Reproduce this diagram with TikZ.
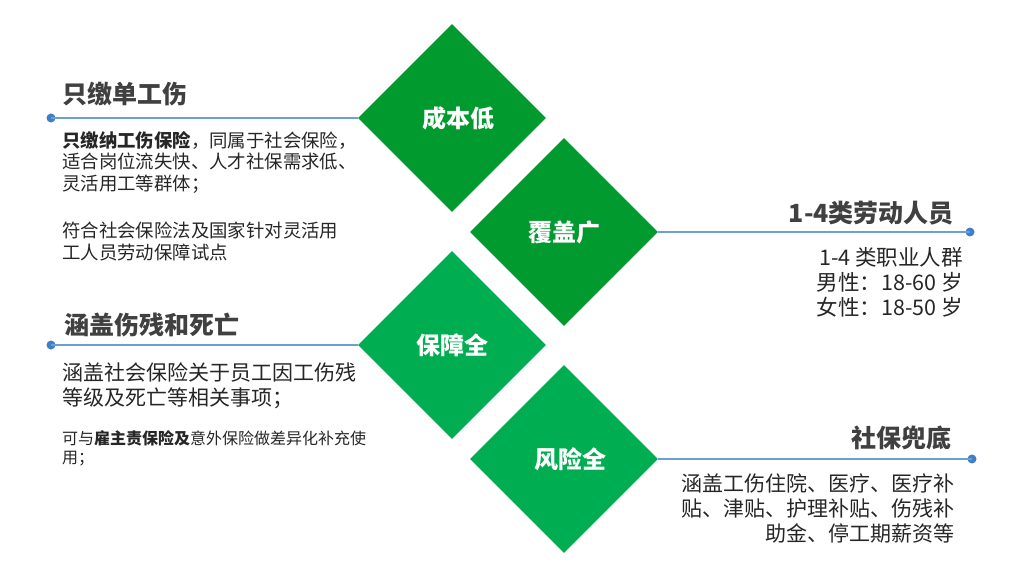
\documentclass[tikz,border=0pt]{standalone}
\usepackage{fontspec}
\setmainfont{Noto Sans CJK SC}
\usetikzlibrary{shapes.geometric}

\definecolor{darkgreen}{HTML}{009A2F}
\definecolor{lightgreen}{HTML}{00AD50}
\definecolor{lineblue}{HTML}{6A9FD8}
\definecolor{dotblue}{HTML}{3F7FC8}
\definecolor{headgray}{HTML}{404040}
\definecolor{bodygray}{HTML}{262626}

\tikzset{
  tile/.style={diamond, minimum width=188pt, minimum height=188pt, inner sep=0pt,
    text=white, font=\fontsize{24}{28}\selectfont\bfseries},
  heading/.style={inner sep=0pt, text=headgray, font=\fontsize{25}{29}\selectfont\bfseries},
  body/.style={inner sep=0pt, text=bodygray},
  link/.style={lineblue, line width=1.3pt},
  dot/.style={circle, fill=dotblue, inner sep=0pt, minimum size=9pt},
}

\begin{document}
\begin{tikzpicture}[x=1pt, y=-1pt]
\useasboundingbox (0,0) rectangle (1030,575);

% diamonds
\node[tile, fill=darkgreen] (low) at (452,118) {\hspace{12pt}成本低};
\node[tile, fill=darkgreen] (wide) at (564,232) {覆盖广\hspace{26pt}};
\node[tile, fill=lightgreen] (safe) at (452,345) {保障全};
\node[tile, fill=lightgreen] (risk) at (564,459) {\hspace{12pt}风险全};

% connectors
\node[dot] (dot1) at (51,118) {};
\node[dot] (dot2) at (970,232) {};
\node[dot] (dot3) at (51,345) {};
\node[dot] (dot4) at (972,459) {};
\draw[link] (dot1.center) -- (low.west);
\draw[link] (wide.east) -- (dot2.center);
\draw[link] (dot3.center) -- (safe.west);
\draw[link] (risk.east) -- (dot4.center);

% left texts (base = last line)
\node[heading, anchor=base west] (head1) at (62,104) {只缴单工伤};
\node[body, anchor=base west, align=left, font=\fontsize{18.4}{21.5}\selectfont] (text1a) at (62,190)
  {{\bfseries 只缴纳工伤保险}，同属于社会保险，\\适合岗位流失快、人才社保需求低、\\灵活用工等群体；};
\node[body, anchor=base west, align=left, font=\fontsize{18.4}{22}\selectfont] (text1b) at (62,259)
  {符合社会保险法及国家针对灵活用\\工人员劳动保障试点};

\node[heading, anchor=base west] (head3) at (64,334) {涵盖伤残和死亡};
\node[body, anchor=base west, align=left, font=\fontsize{21}{25}\selectfont] (text3a) at (62,405)
  {涵盖社会保险关于员工因工伤残\\等级及死亡等相关事项；};
\node[body, anchor=base west, align=left, font=\fontsize{16}{19.5}\selectfont] (text3b) at (62,463.5)
  {可与{\bfseries 雇主责保险及}意外保险做差异化补充使\\用；};

% right texts
\node[heading, anchor=base east] (head2) at (954,222) {1-4类劳动人员};
\node[body, anchor=base east, align=right, font=\fontsize{21.5}{25}\selectfont] (text2) at (963,315)
  {1-4 类职业人群\\男性：18-60 岁\\女性：18-50 岁};

\node[heading, anchor=base east] (head4) at (952,447) {社保兜底};
\node[body, anchor=base east, align=right, font=\fontsize{21}{25}\selectfont] (text4) at (955,541)
  {涵盖工伤住院、医疗、医疗补\\贴、津贴、护理补贴、伤残补\\助金、停工期薪资等};
\end{tikzpicture}
\end{document}
